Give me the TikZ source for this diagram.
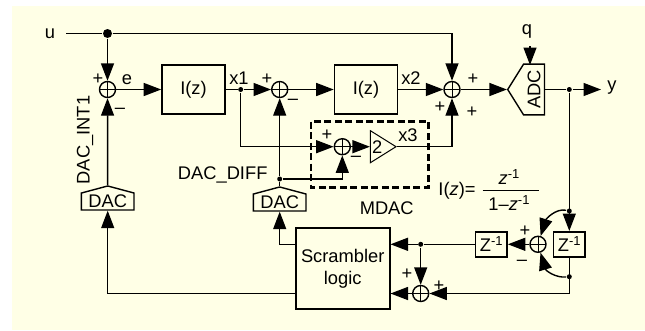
\documentclass[tikz,border=0pt]{standalone}
\usepackage{xcolor}
\usepackage{fontspec}
\setmainfont{Liberation Sans}
\usetikzlibrary{arrows.meta,calc,shapes.geometric,shapes.symbols}
\definecolor{paper}{HTML}{FFFFE6}
\newcommand{\zinv}{\raisebox{6pt}{\fontsize{13}{13}\selectfont -1}}

\begin{document}
\begin{tikzpicture}[x=1pt,y=-1pt,line width=1.4pt,font=\fontsize{18.3}{20}\selectfont,
    >={Triangle[length=17.5pt,width=13pt]},
    sumnode/.style={circle,draw,inner sep=0pt,minimum size=16pt,
      path picture={\draw[line width=1pt] (path picture bounding box.north) -- (path picture bounding box.south)
        (path picture bounding box.west) -- (path picture bounding box.east);}},
    blockbox/.style={rectangle,draw,line width=1.6pt,minimum width=63pt,minimum height=49pt,inner sep=0pt},
    zbox/.style={rectangle,draw,line width=1.6pt,minimum width=31.5pt,minimum height=25pt,inner sep=0pt},
    dacbox/.style={signal,signal to=north,signal from=nowhere,signal pointer angle=150,draw,
      minimum width=52pt,inner xsep=7pt,inner ysep=2pt},
    junction/.style={circle,fill,inner sep=0pt,minimum size=5pt},
    lbl/.style={inner sep=0pt}]

  \useasboundingbox (0,0) rectangle (645,330);
  \fill[paper] (12,6) rectangle (645,330);

  \node[lbl] (u) at (50,34) {u};
  \coordinate (ustart) at (66,33.5);
  \node[junction,minimum size=9pt] (udot) at (107.5,33.5) {};
  \node[sumnode] (sum1) at (107.5,89.5) {};
  \node[blockbox] (int1) at (193.5,89.5) {I(z)};
  \node[junction] (jx1) at (240.7,89.5) {};
  \node[sumnode] (sum2) at (279.7,89.5) {};
  \node[blockbox] (int2) at (366,89.5) {I(z)};
  \node[sumnode] (sum3) at (452,89.5) {};
  \node[signal,signal to=north,signal from=nowhere,signal pointer angle=116,draw,rotate=90,
    minimum width=49pt,inner xsep=6pt,inner ysep=4pt] (adc) at (534,89.5) {ADC};
  \node[lbl] (q) at (527,31) {q};
  \coordinate (qtop) at (530,46);
  \coordinate (qin) at (530,65);
  \node[junction] (jy) at (569.3,89.5) {};
  \coordinate (yend) at (601,89.5);
  \node[lbl] (y) at (612,88) {y};

  \node[sumnode] (sum4) at (342.3,146.7) {};
  \node[isosceles triangle,isosceles triangle stretches,draw,line width=1pt,inner sep=0pt,
    minimum width=32pt,minimum height=24pt,anchor=apex] (gain) at (397.3,146.7) {2};
  \node[junction] (jdiff) at (279.7,179) {};
  \node[dacbox] (dac1) at (107.7,201.5) {DAC};
  \node[dacbox] (dac2) at (279.7,202.5) {DAC};

  \node[blockbox,minimum width=94pt,minimum height=81pt,align=center,font=\fontsize{18.3}{22}\selectfont] (scr) at (342.7,268.3) {Scrambler\\logic};
  \coordinate (scrA) at (295.7,244.3);
  \coordinate (scrB) at (295.7,293.5);
  \node[zbox] (z1) at (491.3,244.3) {Z\zinv};
  \node[zbox] (z2) at (569.3,244.3) {Z\zinv};
  \node[sumnode] (sum5) at (538,244.3) {};
  \node[junction] (jfb) at (420.7,244.3) {};
  \node[sumnode] (sum6) at (420.7,293.5) {};
  \node[junction] (jz1) at (569.3,211) {};
  \node[junction] (jz2) at (569.3,276.7) {};
  \coordinate (jcorner) at (569.3,293.5);

  \draw (ustart) -- (udot);
  \draw[->] (udot) -- (sum1);
  \draw[->] (udot) -| (sum3);
  \draw[->] (sum1) -- (int1);
  \draw (int1) -- (jx1);
  \draw[->] (jx1) -- (sum2);
  \draw[->] (sum2) -- (int2);
  \draw[->] (int2) -- (sum3);
  \draw[->] (sum3) -- (adc.north);
  \draw[->] (qtop) -- (qin);
  \draw (adc.south) -- (jy);
  \draw[->] (jy) -- (yend);
  \draw[->] (jx1) |- (sum4);
  \draw[->] (sum4) -- (gain.lower side);
  \draw[->] (gain.apex) -| (sum3);
  \draw[->] (jdiff) -- (sum2);
  \draw[->] (jdiff) -| (sum4);
  \draw (jdiff) -- (dac2.north);
  \draw[->] (dac1.north) -- (sum1);
  \draw[->] (scrA) -| (dac2.south);
  \draw[->] (scrB) -| (dac1.south);
  \draw[->] (jy) -- (z2);
  \draw (z2) -- (jcorner);
  \draw[->] (jcorner) -- (sum6);
  \draw[->] (sum6) -- (scrB -| scr.east);
  \draw[->] (jfb) -- (sum6);
  \draw[->] (jfb) -- (scr.east |- jfb);
  \draw (z1) -- (jfb);
  \draw[->] (sum5) -- (z1);
  \draw[->] (jz1) .. controls (556,208) and (546,219) .. (sum5);
  \draw[->] (jz2) .. controls (556,278) and (546,271) .. (sum5);

  \node[lbl] (signA) at (98,79) {+};
  \node[lbl] (signB) at (120,111) {–};
  \node[lbl] (signC) at (267,79) {+};
  \node[lbl] (signD) at (293,102) {–};
  \node[lbl] (signE) at (473,79) {+};
  \node[lbl] (signF) at (472,112) {+};
  \node[lbl] (signG) at (440,107) {+};
  \node[lbl] (signH) at (327,135) {+};
  \node[lbl] (signI) at (356,159) {–};
  \node[lbl] (signJ) at (525,231) {+};
  \node[lbl] (signK) at (522,263) {–};
  \node[lbl] (signL) at (407,274) {+};
  \node[lbl] (signM) at (439,286) {+};
  \node[lbl] (e) at (127,80) {e};
  \node[lbl] (x1) at (239,78) {x1};
  \node[lbl] (x2) at (411,78) {x2};
  \node[lbl] (x3) at (408,135) {x3};
  \node[lbl] (diff) at (222.7,175) {DAC\_DIFF};
  \node[lbl,rotate=90] (int) at (85,140) {DAC\_INT1};
  \node[lbl] (mdac) at (386.7,208) {MDAC};
  \node[lbl] (iz) at (457,191) {I(\textit{z})=};
  \node[lbl] (num) at (509,177) {\textit{z}\zinv};
  \node[lbl] (den) at (509,203) {1–\textit{z}\zinv};
  \coordinate (barL) at (482.7,190);
  \coordinate (barR) at (539,190);
  \draw[line width=1pt] (barL) -- (barR);

  \draw[line width=2.6pt,dash pattern=on 7pt off 3.5pt] (311,121.7) rectangle (428.7,187.3);
\end{tikzpicture}
\end{document}
